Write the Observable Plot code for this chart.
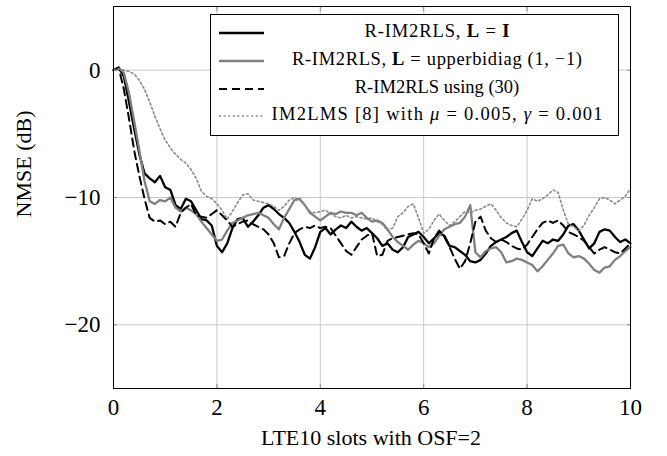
<!DOCTYPE html>
<html><head><meta charset="utf-8">
<script src="https://cdn.jsdelivr.net/npm/d3@7"></script>
<script src="https://cdn.jsdelivr.net/npm/@observablehq/plot@0.6"></script>
<style>
body{margin:0;background:#fff;}
#chart svg{display:block;}
#chart svg, #chart svg text, #chart svg tspan{font-family:"Liberation Serif",serif !important;}
</style></head><body><div id="chart"></div>
<script>
const xTicks = [0, 2, 4, 6, 8, 10];
const yTicks = [0, -10, -20];
const xLabel = "LTE10 slots with OSF=2";
const yLabel = "NMSE (dB)";
// sample positions (slots), one sample every 0.1 slot
const xs = Array.from({length: 101}, (_, i) => +(i / 10).toFixed(1));

const yIdentity = [0,0.2,-0.5,-2.5,-4.6,-6.6,-8.1,-8.5,-8.8,-8.3,
 -9.2,-9.4,-10.6,-10.9,-10.1,-10.3,-11.0,-11.7,-11.8,-12.2,
 -13.8,-14.3,-13.6,-12.4,-11.7,-11.6,-12.3,-11.9,-11.4,-10.8,
 -10.6,-10.9,-11.3,-11.6,-12.0,-12.7,-13.5,-14.5,-14.8,-13.9,
 -12.7,-12.4,-12.9,-12.5,-12.2,-12.4,-11.9,-12.3,-12.6,-12.4,
 -12.8,-13.2,-13.8,-13.6,-14.1,-14.3,-13.9,-13.1,-12.9,-12.7,
 -13.1,-13.6,-13.2,-12.8,-13.0,-13.8,-13.9,-14.2,-14.5,-15.0,
 -15.1,-14.9,-14.4,-13.8,-13.5,-13.3,-13.1,-12.8,-12.6,-13.5,
 -14.3,-14.6,-14.0,-13.4,-13.6,-13.3,-13.4,-12.9,-12.2,-12.1,
 -12.6,-13.3,-14.0,-13.6,-12.7,-12.5,-12.6,-13.1,-13.5,-13.3,-13.6];

const yBidiag = [0,0.2,-0.2,-1.8,-4.0,-6.3,-8.7,-10.3,-10.5,-10.2,
 -10.3,-10.0,-10.8,-11.1,-10.8,-11.0,-11.3,-11.9,-12.4,-12.9,
 -13.4,-13.3,-12.6,-12.0,-11.8,-11.6,-11.4,-11.3,-11.2,-11.4,
 -11.6,-12.1,-12.5,-11.6,-10.9,-10.2,-10.1,-10.6,-11.2,-11.5,
 -11.8,-11.5,-11.2,-11.3,-11.1,-11.2,-11.2,-11.4,-11.2,-11.6,
 -11.9,-11.8,-12.0,-12.5,-13.1,-13.5,-13.8,-14.1,-13.7,-13.4,
 -13.6,-13.9,-13.6,-13.0,-12.5,-12.3,-12.1,-12.0,-11.5,-10.6,
 -14.3,-14.7,-14.2,-14.0,-13.9,-14.3,-15.1,-15.0,-14.8,-14.9,
 -15.1,-15.3,-15.8,-15.4,-14.9,-14.4,-13.8,-13.7,-14.4,-14.7,
 -14.6,-14.8,-15.2,-15.7,-15.9,-15.5,-15.4,-14.9,-14.6,-14.2,-13.9];

const yEq30 = [0,0.2,-1.5,-3.8,-6.3,-8.3,-10.1,-11.6,-11.9,-11.8,
 -12.1,-11.9,-12.3,-11.2,-10.8,-10.5,-11.4,-11.5,-11.6,-11.3,
 -11.0,-11.4,-11.8,-12.3,-12.1,-11.9,-11.8,-12.1,-12.3,-12.5,
 -12.9,-13.6,-14.7,-14.6,-13.6,-12.8,-12.5,-12.3,-12.4,-12.2,
 -12.4,-12.3,-12.4,-13.0,-13.6,-14.2,-14.5,-13.9,-13.3,-13.0,
 -12.8,-14.6,-14.5,-13.4,-13.2,-13.1,-13.0,-12.9,-12.8,-12.9,
 -13.6,-14.4,-13.2,-12.6,-13.1,-13.9,-14.8,-15.6,-15.0,-13.6,
 -11.9,-11.5,-12.6,-13.2,-13.5,-13.3,-13.5,-13.8,-14.0,-14.1,
 -13.7,-13.1,-12.5,-12.0,-11.8,-12.0,-11.8,-12.2,-12.7,-12.9,
 -13.1,-13.4,-13.9,-14.4,-14.1,-13.9,-14.1,-14.3,-14.4,-14.0,-13.6];

const yIm2lms = [0,0.1,0.0,-0.1,-0.3,-0.8,-1.5,-2.5,-3.6,-4.6,
 -5.5,-6.1,-6.6,-7.0,-7.3,-7.8,-8.5,-9.5,-9.9,-10.1,
 -10.5,-11.0,-11.7,-11.1,-10.4,-9.8,-9.7,-10.2,-10.3,-10.4,
 -10.5,-10.7,-11.0,-10.7,-10.2,-10.0,-10.2,-10.6,-11.1,-11.2,
 -11.1,-11.0,-11.3,-11.5,-11.6,-11.4,-11.6,-11.5,-11.6,-11.7,
 -11.6,-11.9,-12.1,-12.6,-12.4,-11.5,-11.2,-10.7,-10.5,-11.6,
 -12.8,-12.5,-11.8,-11.3,-11.8,-12.2,-11.9,-11.5,-11.1,-11.2,
 -11.0,-10.9,-10.7,-10.5,-11.0,-11.6,-12.0,-12.2,-12.3,-11.7,
 -11.0,-10.1,-10.3,-10.1,-9.8,-9.4,-9.6,-11.0,-12.1,-12.3,
 -12.6,-12.2,-11.4,-10.8,-10.1,-10.0,-10.2,-10.5,-10.2,-9.9,-9.3];

const pts = ys => xs.map((x, i) => ({x, y: ys[i]}));

const svgPlot = Plot.plot({
  width: 667, height: 456,
  marginLeft: 113, marginRight: 37, marginTop: 6, marginBottom: 68,
  x: {domain: [0, 10]},
  y: {domain: [-25, 5]},
  style: {fontFamily: "'Liberation Serif', serif", fontSize: "22px", background: "#fff", color: "#000"},
  marks: [
    Plot.gridX(xTicks, {stroke: "#c8c8c8", strokeOpacity: 1, strokeWidth: 1}),
    Plot.gridY(yTicks, {stroke: "#c8c8c8", strokeOpacity: 1, strokeWidth: 1}),
    Plot.axisX(xTicks, {anchor: "bottom", tickSize: -4, stroke: "#888", text: null, label: null}),
    Plot.axisX(xTicks, {anchor: "top", tickSize: -4, stroke: "#888", text: null, label: null}),
    Plot.axisY(yTicks, {anchor: "left", tickSize: -4, stroke: "#888", text: null, label: null}),
    Plot.axisY(yTicks, {anchor: "right", tickSize: -4, stroke: "#888", text: null, label: null}),
    Plot.axisX(xTicks, {anchor: "bottom", tickSize: 0, tickPadding: 10, label: null, fontSize: 23}),
    Plot.axisY(yTicks, {anchor: "left", tickSize: 0, tickPadding: 13, label: null, fontSize: 23}),
    Plot.line(pts(yIdentity), {x: "x", y: "y", stroke: "#000", strokeWidth: 2.3}),
    Plot.line(pts(yBidiag), {x: "x", y: "y", stroke: "#7f7f7f", strokeWidth: 2.3}),
    Plot.line(pts(yEq30), {x: "x", y: "y", stroke: "#000", strokeWidth: 2, strokeDasharray: "8,5"}),
    Plot.line(pts(yIm2lms), {x: "x", y: "y", stroke: "#8a8a8a", strokeWidth: 1.6, strokeDasharray: "2,2.6"}),
    Plot.frame({stroke: "#000", strokeWidth: 1})
  ]
});
document.getElementById("chart").appendChild(svgPlot);

const svg = d3.select(svgPlot);
svg.attr("font-family", "'Liberation Serif', serif");
// axis titles
svg.append("text").attr("x", 371).attr("y", 440).attr("text-anchor", "middle")
  .attr("dominant-baseline", "middle").style("font-size", "22px").text(xLabel);
svg.append("text").attr("transform", "translate(26,164) rotate(-90)").attr("text-anchor", "middle")
  .attr("dominant-baseline", "middle").style("font-size", "22px").text(yLabel);

// legend
const legend = [
  {stroke: "#000", w: 2.3, dash: null, len: 145, parts: [["R-IM2RLS, ",""],["L","b"],[" = ",""],["I","b"]]},
  {stroke: "#7f7f7f", w: 2.3, dash: null, len: 290, parts: [["R-IM2RLS, ",""],["L","b"],[" = upperbidiag (1, −1)",""]]},
  {stroke: "#000", w: 2, dash: "8,5", len: null, parts: [["R-IM2RLS using (30)",""]]},
  {stroke: "#8a8a8a", w: 1.6, dash: "2,2.6", len: 331, parts: [["IM2LMS [8] with ",""],["μ","i"],[" = 0.005, ",""],["γ","i"],[" = 0.001",""]]}
];
const lg = svg.append("g");
lg.append("rect").attr("x", 210.5).attr("y", 14.5).attr("width", 408).attr("height", 121)
  .attr("fill", "#fff").attr("stroke", "#000").attr("stroke-width", 1);
const rowY = [33, 61, 89, 116];
legend.forEach((d, i) => {
  const ln = lg.append("line").attr("x1", 219).attr("x2", 264).attr("y1", rowY[i]).attr("y2", rowY[i])
    .attr("stroke", d.stroke).attr("stroke-width", d.w);
  if (d.dash) ln.attr("stroke-dasharray", d.dash);
  const t = lg.append("text").attr("x", 437).attr("y", rowY[i]).attr("text-anchor", "middle")
    .attr("dominant-baseline", "middle").style("font-size", "18.5px");
  if (d.len) t.attr("textLength", d.len).attr("lengthAdjust", "spacing");
  d.parts.forEach(([s, f]) => {
    const ts = t.append("tspan").text(s);
    if (f === "b") ts.attr("font-weight", "bold");
    if (f === "i") ts.attr("font-style", "italic");
  });
});
</script></body></html>
